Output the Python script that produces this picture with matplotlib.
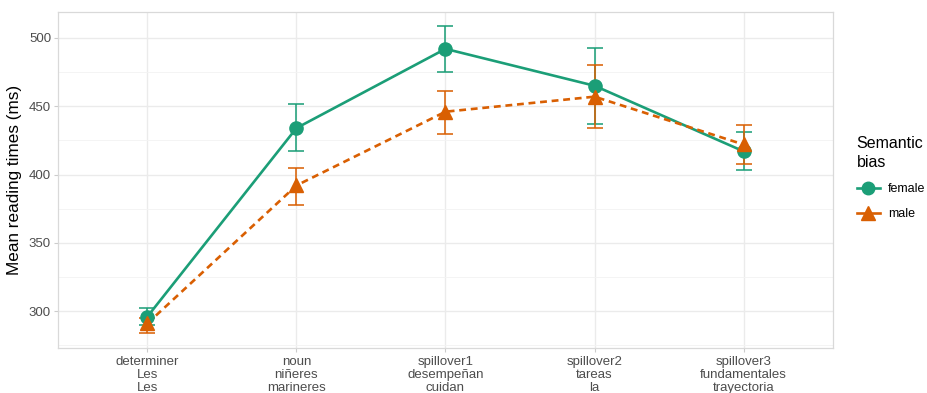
import matplotlib.pyplot as plt
import numpy as np
from matplotlib.lines import Line2D

plt.rcParams["font.family"] = ["Liberation Sans", "DejaVu Sans"]

regions = ["determiner\nLes\nLes", "noun\nniñeres\nmarineres",
           "spillover1\ndesempeñan\ncuidan", "spillover2\ntareas\nla",
           "spillover3\nfundamentales\ntrayectoria"]

female_mean = [296, 434, 492, 465, 417]
female_lo = [290, 417, 475, 437, 403]
female_hi = [302, 452, 509, 493, 431]

male_mean = [291, 392, 446, 457, 422]
male_lo = [284, 378, 430, 434, 408]
male_hi = [295, 405, 461, 480, 436]

green = "#1B9E77"
orange = "#D95F02"

fig = plt.figure(figsize=(9.28, 3.93), dpi=100)
ax = fig.add_axes([0.0625, 0.1145, 0.8351, 0.855])

x = np.arange(1, len(regions) + 1)

def draw(mean, lo, hi, col, marker, ls, ms):
    mean = np.array(mean)
    err = [mean - np.array(lo), np.array(hi) - mean]
    ax.errorbar(x, mean, yerr=err, fmt="none", ecolor=col, elinewidth=1.4,
                capsize=5.5, capthick=1.4, alpha=0.8, zorder=3)
    ax.plot(x, mean, color=col, linestyle=ls, linewidth=1.9, zorder=4,
            dashes=(2.6, 1.8) if ls == "--" else (None, None))
    ax.plot(x, mean, linestyle="none", marker=marker, color=col,
            markersize=ms, zorder=5)

draw(female_mean, female_lo, female_hi, green, "o", "-", 9.5)
draw(male_mean, male_lo, male_hi, orange, "^", "--", 10)

ax.set_xlim(0.4, 5.6)
ax.set_ylim(273, 519)
ax.set_xticks(x)
ax.set_xticklabels(regions, fontsize=9.5, color="#4D4D4D", linespacing=1.08)
ax.set_yticks([300, 350, 400, 450, 500])
ax.set_yticks([275, 325, 375, 425, 475], minor=True)
ax.tick_params(axis="y", labelsize=9.5, labelcolor="#4D4D4D", length=3,
               color="#CCCCCC", pad=2)
ax.tick_params(axis="y", which="minor", length=0)
ax.tick_params(axis="x", length=3, color="#CCCCCC", pad=3)
ax.grid(True, which="major", color="#EBEBEB", linewidth=1.0)
ax.grid(True, which="minor", color="#F3F3F3", linewidth=0.6)
ax.set_axisbelow(True)
for s in ax.spines.values():
    s.set_color("#D9D9D9")
    s.set_linewidth(0.9)

ax.set_ylabel("Mean reading times (ms)", fontsize=12.3, color="black", labelpad=5)

handles = [
    Line2D([], [], color=green, marker="o", markersize=9, linewidth=1.9),
    Line2D([], [], color=orange, marker="^", markersize=10, linewidth=1.9),
]
leg = fig.legend(handles, ["female", "male"], title="Semantic\nbias",
                 loc="upper left", bbox_to_anchor=(0.923, 0.653),
                 frameon=False, fontsize=9, title_fontsize=11.5,
                 handlelength=1.9, handletextpad=0.6, labelspacing=1.05,
                 borderaxespad=0, borderpad=0)
leg._legend_box.align = "left"
leg.get_title().set_linespacing(1.3)

fig.savefig("out.png", dpi=100)
